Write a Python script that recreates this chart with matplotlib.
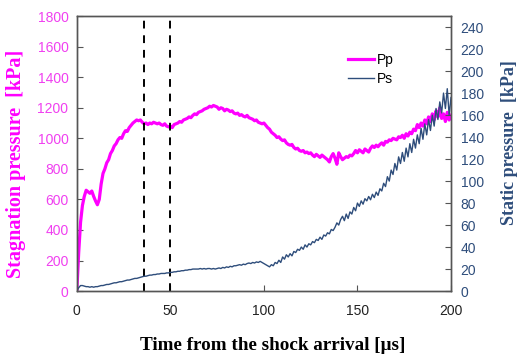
import matplotlib
matplotlib.use('Agg')
import matplotlib.pyplot as plt
import numpy as np

# time axis [us]
time_us = list(range(0, 201))

# stagnation pressure Pp [kPa], every 1 us
pp_kpa = [
    0, 250, 450, 560, 620, 660, 650, 640, 655, 620,
    590, 565, 600, 700, 770, 800, 840, 860, 900, 920,
    950, 965, 990, 1005, 1000, 1030, 1050, 1045, 1070, 1085,
    1100, 1110, 1120, 1115, 1120, 1105, 1095, 1100, 1090, 1100,
    1095, 1105, 1100, 1095, 1100, 1090, 1085, 1095, 1080, 1075,
    1080, 1070, 1090, 1095, 1100, 1110, 1105, 1120, 1125, 1130,
    1140, 1135, 1150, 1160, 1155, 1170, 1175, 1180, 1190, 1195,
    1200, 1210, 1205, 1215, 1210, 1205, 1190, 1200, 1195, 1180,
    1190, 1185, 1175, 1180, 1165, 1160, 1165, 1150, 1155, 1145,
    1140, 1150, 1135, 1130, 1125, 1115, 1120, 1105, 1100, 1095,
    1100, 1085, 1070, 1060, 1040, 1030, 1020, 1005, 1010, 995,
    985, 990, 970, 960, 955, 960, 940, 930, 935, 920,
    915, 920, 905, 910, 900, 905, 890, 880, 895, 885,
    875, 890, 880, 870, 860, 845, 880, 900, 870, 830,
    905, 880, 860, 870, 880, 875, 890, 885, 900, 920,
    905, 925, 915, 905, 930, 920, 910, 935, 950, 940,
    955, 945, 960, 970, 955, 980, 975, 990, 985, 1000,
    995, 990, 1010, 1005, 1020, 1000, 1030, 1015, 1040, 1030,
    1060, 1050, 1090, 1070, 1100, 1080, 1120, 1095, 1140, 1110,
    1160, 1120, 1180, 1140, 1200, 1130, 1160, 1110, 1170, 1120,
    1150,
]

# static pressure Ps [kPa], every 1 us
ps_kpa = [
    0, 3, 5, 5, 4.5, 4, 4, 3.5, 4, 3.5,
    4, 4, 4.5, 5, 5, 5.5, 6, 6, 6.5, 7,
    7.5, 7.5, 8, 8.5, 8.5, 9, 9.5, 10, 10, 10.5,
    11, 11.5, 11.5, 12, 12.5, 13, 13.5, 13.5, 14, 14.5,
    14.5, 15, 15, 15.5, 15.5, 16, 16, 16, 16.5, 16.5,
    17, 17, 17.5, 17.5, 18, 18, 18.5, 18.5, 19, 19,
    19.5, 19.5, 20, 20, 20, 20, 20.5, 20, 20.5, 20,
    20.5, 20.5, 20, 20.5, 20, 20.5, 21, 20.5, 21.5, 21,
    22, 21.5, 22.5, 22, 23, 23, 23.5, 24, 23.5, 24.5,
    24, 25, 25.5, 25, 26, 25.5, 26.5, 26, 27, 26,
    25, 24, 23, 22, 24, 23, 26, 25, 28, 26,
    31, 29, 33, 31, 34, 32, 36, 35, 38, 37,
    40, 38, 42, 40, 43, 42, 45, 44, 47, 46,
    49, 47, 51, 50, 53, 52, 56, 55, 58, 62,
    60, 65, 68, 64, 70, 66, 72, 70, 76, 73,
    80, 77, 82, 79, 84, 82, 86, 83, 88, 85,
    90, 87, 93, 91, 98, 95, 104, 100, 110, 106,
    116, 110, 122, 116, 126, 118, 130, 122, 134, 126,
    138, 130, 142, 134, 148, 138, 152, 142, 156, 146,
    160, 150, 166, 156, 172, 162, 180, 166, 184, 160,
    176,
]

# instants marked with dashed lines [us]
marker_times = [36, 50]

pink = '#FF00FF'
pink_txt = '#F040F0'
navy = '#2E4D7B'

fig = plt.figure(figsize=(5.19, 3.58), dpi=100)
ax = fig.add_axes([0.148, 0.187, 0.721, 0.768])
ax2 = ax.twinx()

line_pp, = ax.plot(time_us, pp_kpa, color=pink, lw=2.3, label='Pp')
line_ps, = ax2.plot(time_us, ps_kpa, color=navy, lw=1.0, label='Ps')

for t in marker_times:
    ax.axvline(t, color='black', lw=1.4, ls=(0, (4, 3.5)))

ax.set_xlim(0, 200)
ax.set_ylim(0, 1800)
ax2.set_ylim(0, 250)
ax.set_xticks([0, 50, 100, 150, 200])
ax.set_yticks(np.arange(0, 1801, 200))
ax2.set_yticks(np.arange(0, 241, 20))

tick_font = {'family': 'Liberation Sans', 'size': 10}
ax.set_xticklabels([0, 50, 100, 150, 200], fontdict=tick_font, color='#222222')
ax.set_yticklabels([str(v) for v in range(0, 1801, 200)], fontdict=tick_font, color=pink_txt)
ax2.set_yticklabels([str(v) for v in range(0, 241, 20)], fontdict=tick_font, color=navy)

ax.tick_params(axis='both', direction='in', length=4, width=0.8, colors='#555555')
ax.tick_params(axis='y', labelcolor=pink_txt, pad=6)
ax.tick_params(axis='x', labelcolor='#222222', pad=9)
ax2.tick_params(axis='y', direction='in', length=4, width=0.8, colors='#555555',
                labelcolor=navy, pad=7)

for a in (ax, ax2):
    for s in a.spines.values():
        s.set_color('#555555')
        s.set_linewidth(1.0)

# axis titles placed directly in figure coordinates
serif_bold = {'family': 'Liberation Serif', 'weight': 'bold'}
fig.text(16 / 519, 1 - 164 / 358, 'Stagnation pressure  [kPa]', rotation=90,
         ha='center', va='center', color=pink, size=14.5, **serif_bold)
fig.text(509 / 519, 1 - 143 / 358, 'Static pressure  [kPa]', rotation=90,
         ha='center', va='center', color=navy, size=13, **serif_bold)
fig.text(273 / 519, 1 - 346 / 358, 'Time from the shock arrival [\u03bcs]',
         ha='center', va='center', color='black', size=13.8, **serif_bold)

leg = ax.legend(handles=[line_pp, line_ps], loc='upper left', bbox_to_anchor=(0.69, 0.91),
                frameon=False, prop={'family': 'Liberation Sans', 'size': 10},
                handlelength=1.9, handletextpad=0.2, labelspacing=0.3)

fig.savefig('out.png', dpi=100)
